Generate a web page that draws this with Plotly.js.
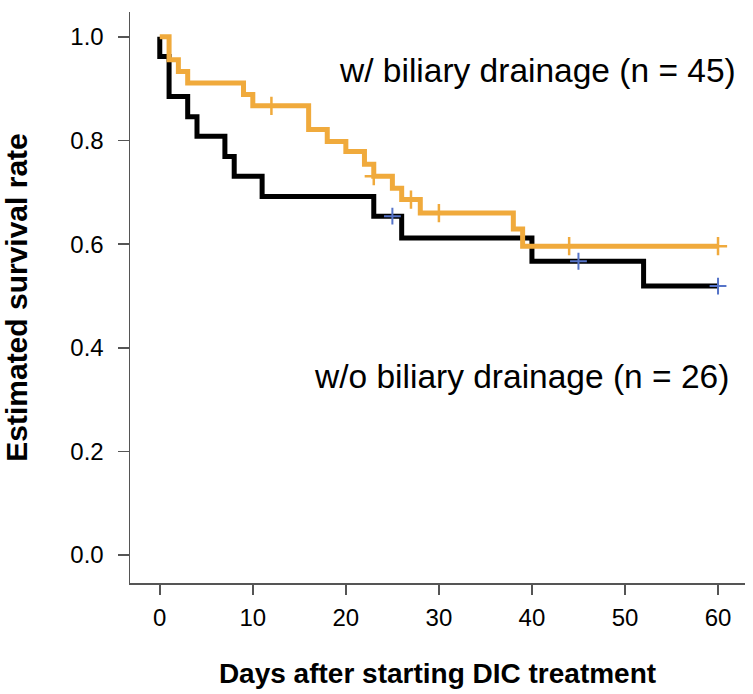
<!DOCTYPE html>
<html>
<head>
<meta charset="utf-8">
<script src="https://cdn.plot.ly/plotly-3.0.1.min.js"></script>
<style>
  html, body { margin: 0; padding: 0; background: #fff; }
  #chart { width: 753px; height: 694px; }
</style>
</head>
<body>
<div id="chart"></div>
<script>
// w/o biliary drainage (n = 26)
const woDays = [0, 0, 1, 3, 4, 7, 8, 11, 23, 26, 40, 52, 60];
const woSurv = [1, 0.962, 0.885, 0.846, 0.808, 0.769, 0.731, 0.692, 0.654, 0.612, 0.567, 0.519, 0.519];
const woCensorDays = [25, 45, 60];
const woCensorSurv = [0.654, 0.567, 0.519];

// w/ biliary drainage (n = 45)
const wDays = [0, 1, 2, 3, 9, 10, 16, 18, 20, 22, 23, 25, 26, 28, 38, 39, 60];
const wSurv = [1, 0.956, 0.933, 0.911, 0.889, 0.867, 0.821, 0.798, 0.779, 0.754, 0.731, 0.708, 0.686, 0.660, 0.629, 0.596, 0.596];
const wCensorDays = [12, 23, 27, 30, 44, 60];
const wCensorSurv = [0.867, 0.731, 0.686, 0.660, 0.596, 0.596];

const xTicks = [0, 10, 20, 30, 40, 50, 60];
const yTicks = [0, 0.2, 0.4, 0.6, 0.8, 1.0];
const yTickText = ["0.0", "0.2", "0.4", "0.6", "0.8", "1.0"];

const ORANGE = "#f0aa3c";
const BLUE = "#5573c8";
const FONT = "Liberation Sans, Arial, Helvetica, sans-serif";

const traces = [
  {
    type: "scatter", mode: "lines", x: woDays, y: woSurv,
    line: { shape: "hv", color: "#000000", width: 5 },
    hoverinfo: "skip"
  },
  {
    type: "scatter", mode: "lines", x: wDays, y: wSurv,
    line: { shape: "hv", color: ORANGE, width: 5 },
    hoverinfo: "skip"
  },
  {
    type: "scatter", mode: "markers", x: woCensorDays, y: woCensorSurv,
    marker: { symbol: "cross-thin-open", size: 12, color: BLUE, line: { color: BLUE, width: 2 } },
    hoverinfo: "skip"
  },
  {
    type: "scatter", mode: "markers", x: wCensorDays, y: wCensorSurv,
    marker: { symbol: "cross-thin-open", size: 13, color: ORANGE, line: { color: ORANGE, width: 2.5 } },
    hoverinfo: "skip"
  }
];

const layout = {
  width: 753,
  height: 694,
  margin: { l: 130, r: 8, t: 12, b: 111 },
  paper_bgcolor: "#ffffff",
  plot_bgcolor: "#ffffff",
  showlegend: false,
  font: { family: FONT, color: "#000000" },
  xaxis: {
    range: [-3.2, 62.9],
    tickvals: xTicks,
    ticks: "outside", ticklen: 10, tickwidth: 1.5, tickcolor: "#555",
    showline: true, linecolor: "#555", linewidth: 1.5,
    showgrid: false, zeroline: false,
    tickfont: { size: 24, family: FONT },
    ticklabelstandoff: 3,
    title: { text: "<b>Days after starting DIC treatment</b>", font: { size: 28, family: FONT }, standoff: 33 }
  },
  yaxis: {
    range: [-0.054, 1.048],
    tickvals: yTicks, ticktext: yTickText,
    ticks: "outside", ticklen: 11, tickwidth: 1.5, tickcolor: "#555",
    showline: true, linecolor: "#555", linewidth: 1.5,
    showgrid: false, zeroline: false,
    tickfont: { size: 24, family: FONT },
    ticklabelstandoff: 9,
    title: { text: "<b>Estimated survival rate</b>", font: { size: 30, family: FONT }, standoff: 38 }
  },
  annotations: [
    {
      x: 62.15, y: 0.936, xref: "x", yref: "y",
      text: "w/ biliary drainage (n = 45)", showarrow: false,
      xanchor: "right", yanchor: "middle",
      font: { size: 33.5, family: FONT, color: "#000" }
    },
    {
      x: 61.4, y: 0.345, xref: "x", yref: "y",
      text: "w/o biliary drainage (n = 26)", showarrow: false,
      xanchor: "right", yanchor: "middle",
      font: { size: 33.5, family: FONT, color: "#000" }
    }
  ]
};

Plotly.newPlot("chart", traces, layout, { displayModeBar: false, staticPlot: true });
</script>
</body>
</html>
